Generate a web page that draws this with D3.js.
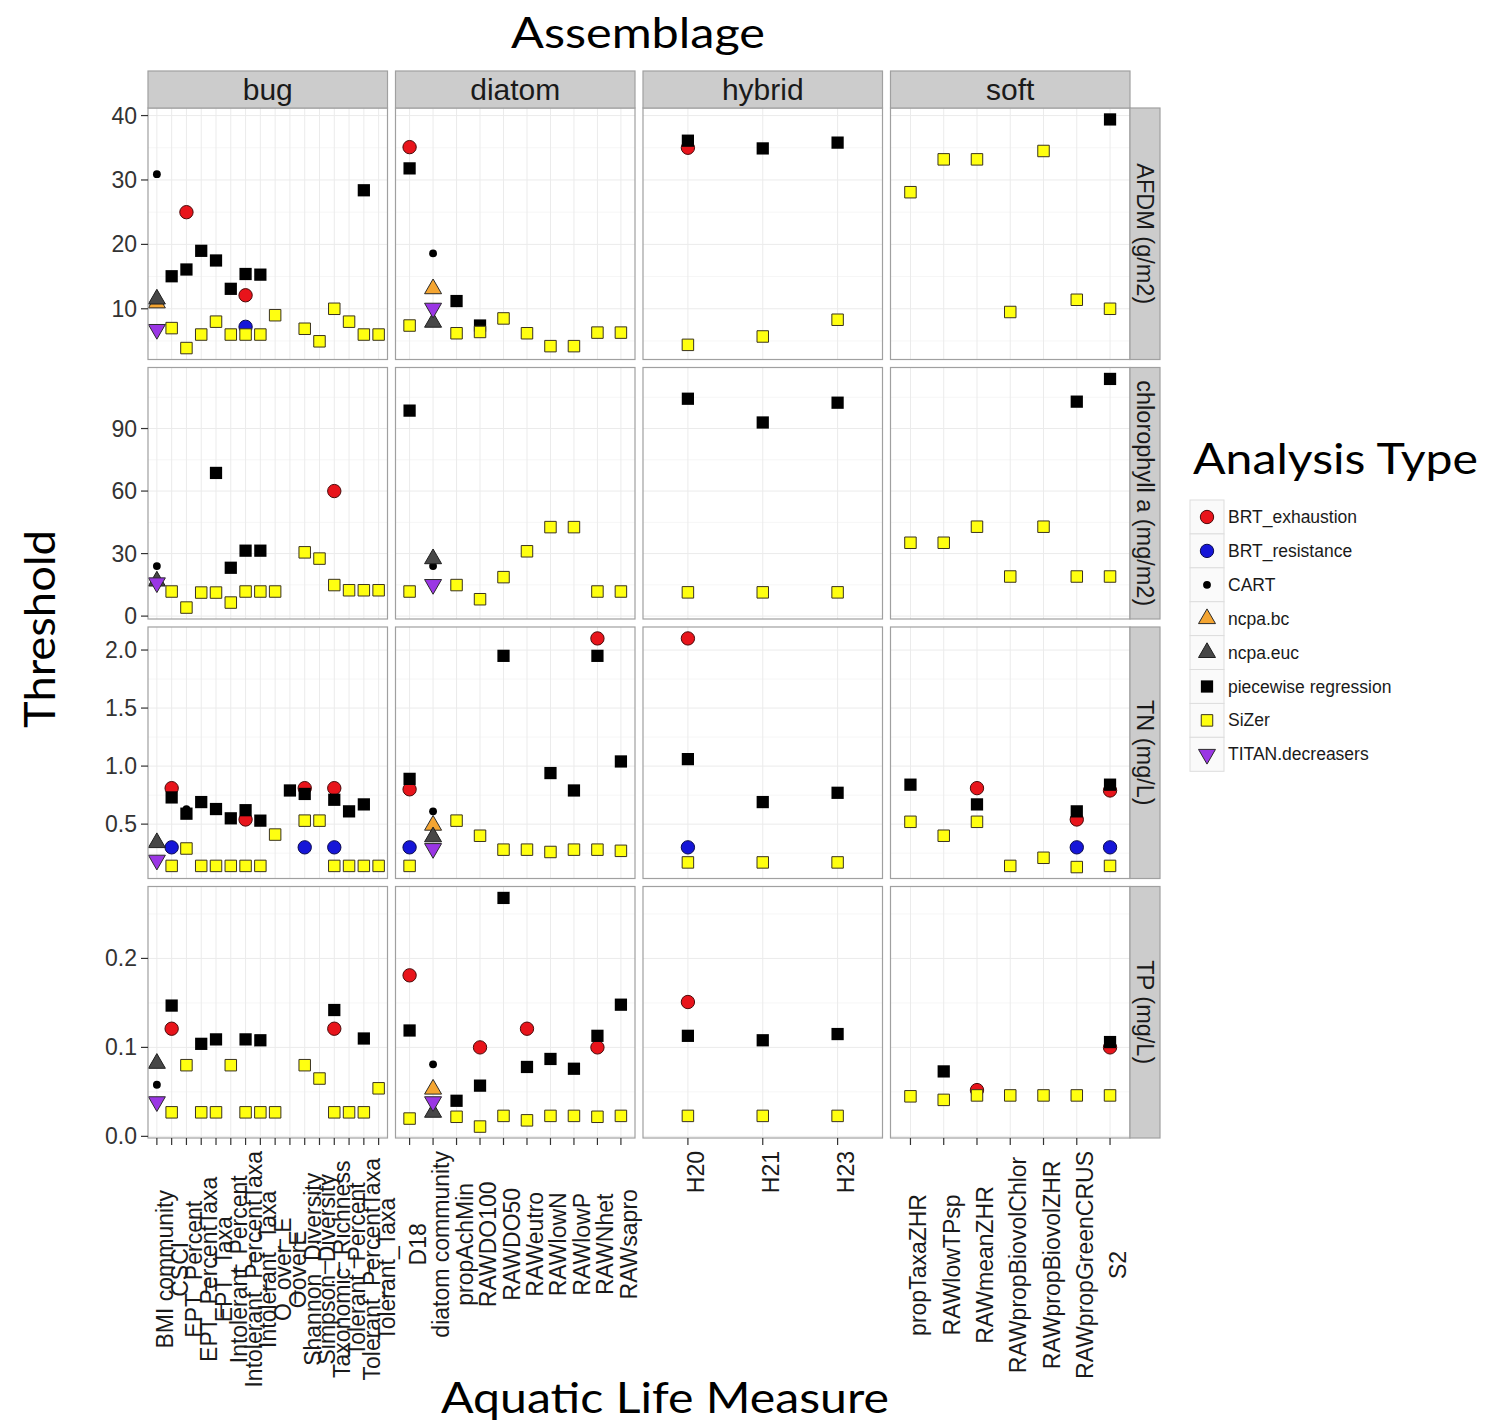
<!DOCTYPE html>
<html>
<head>
<meta charset="utf-8">
<script src="https://cdn.jsdelivr.net/npm/d3@7"></script>
<style>
  body { margin: 0; background: #fff; }
</style>
</head>
<body>
<script>
'use strict';

// facets
var assemblages = ["bug", "diatom", "hybrid", "soft"];
var responses = ["AFDM", "chl", "TN", "TP"];
var responseLabels = ["AFDM (g/m2)", "chlorophyll a (mg/m2)", "TN (mg/L)", "TP (mg/L)"];

// x categories per assemblage
var bugMeasures = ["BMI community", "CSCI", "EPT_Percent", "EPT_PercentTaxa", "EPT_Taxa",
  "Intolerant_Percent", "Intolerant_PercentTaxa", "Intolerant_Taxa", "O_over_E", "OoverE",
  "Shannon_Diversity", "Simpson_Diversity", "Taxonomic_Richness", "Tolerant_Percent",
  "Tolerant_PercentTaxa", "Tolerant_Taxa"];
var diatomMeasures = ["D18", "diatom community", "propAchMin", "RAWDO100", "RAWDO50",
  "RAWeutro", "RAWlowN", "RAWlowP", "RAWNhet", "RAWsapro"];
var hybridMeasures = ["H20", "H21", "H23"];
var softMeasures = ["propTaxaZHR", "RAWlowTPsp", "RAWmeanZHR", "RAWpropBiovolChlor",
  "RAWpropBiovolZHR", "RAWpropGreenCRUS", "S2"];

// y ticks per response row
var yTicks = [[10, 20, 30, 40], [0, 30, 60, 90], [0.5, 1.0, 1.5, 2.0], [0, 0.1, 0.2]];
var yTickLabels = [["10", "20", "30", "40"], ["0", "30", "60", "90"],
  ["0.5", "1.0", "1.5", "2.0"], ["0.0", "0.1", "0.2"]];
var yMinorTicks = [[5, 15, 25, 35], [15, 45, 75, 105], [0.25, 0.75, 1.25, 1.75], [0.05, 0.15, 0.25]];

// legend order
var methods = ["BRT_exhaustion", "BRT_resistance", "CART", "ncpa.bc", "ncpa.euc",
  "piecewise regression", "SiZer", "TITAN.decreasers"];

// thresholds: [assemblage, response, measure, value]
var brtExhaustion = [
  ["bug", "AFDM", "EPT_Percent", 25.0], ["bug", "AFDM", "Intolerant_PercentTaxa", 12.1],
  ["diatom", "AFDM", "D18", 35.1], ["hybrid", "AFDM", "H20", 35.0],
  ["bug", "chl", "Taxonomic_Richness", 60.0],
  ["bug", "TN", "CSCI", 0.81], ["bug", "TN", "Intolerant_PercentTaxa", 0.54],
  ["bug", "TN", "Shannon_Diversity", 0.81], ["bug", "TN", "Taxonomic_Richness", 0.81],
  ["diatom", "TN", "D18", 0.80], ["diatom", "TN", "RAWNhet", 2.10], ["hybrid", "TN", "H20", 2.10],
  ["soft", "TN", "RAWmeanZHR", 0.81], ["soft", "TN", "RAWpropGreenCRUS", 0.54], ["soft", "TN", "S2", 0.79],
  ["bug", "TP", "CSCI", 0.121], ["bug", "TP", "Taxonomic_Richness", 0.121],
  ["diatom", "TP", "D18", 0.181], ["diatom", "TP", "RAWDO100", 0.100], ["diatom", "TP", "RAWeutro", 0.121],
  ["diatom", "TP", "RAWNhet", 0.100], ["hybrid", "TP", "H20", 0.151],
  ["soft", "TP", "RAWmeanZHR", 0.052], ["soft", "TP", "S2", 0.100]
];

var brtResistance = [
  ["bug", "AFDM", "Intolerant_PercentTaxa", 7.2],
  ["bug", "TN", "CSCI", 0.30], ["bug", "TN", "Shannon_Diversity", 0.30], ["bug", "TN", "Taxonomic_Richness", 0.30],
  ["diatom", "TN", "D18", 0.30], ["hybrid", "TN", "H20", 0.30],
  ["soft", "TN", "RAWpropGreenCRUS", 0.30], ["soft", "TN", "S2", 0.30]
];

var cart = [
  ["bug", "AFDM", "BMI community", 30.9], ["diatom", "AFDM", "diatom community", 18.6],
  ["bug", "chl", "BMI community", 24.0], ["diatom", "chl", "diatom community", 24.0],
  ["bug", "TN", "EPT_Percent", 0.63], ["diatom", "TN", "diatom community", 0.61],
  ["bug", "TP", "BMI community", 0.058], ["diatom", "TP", "diatom community", 0.081]
];

var ncpaBc = [
  ["bug", "AFDM", "BMI community", 10.9], ["diatom", "AFDM", "diatom community", 13.1],
  ["diatom", "TN", "diatom community", 0.49], ["diatom", "TP", "diatom community", 0.053]
];

var ncpaEuc = [
  ["bug", "AFDM", "BMI community", 11.5], ["diatom", "AFDM", "diatom community", 7.9],
  ["bug", "chl", "BMI community", 16.8], ["diatom", "chl", "diatom community", 27.5],
  ["bug", "TN", "BMI community", 0.34], ["diatom", "TN", "diatom community", 0.39],
  ["bug", "TP", "BMI community", 0.082], ["diatom", "TP", "diatom community", 0.027]
];

var piecewise = [
  ["bug", "AFDM", "CSCI", 15.05], ["bug", "AFDM", "EPT_Percent", 16.1], ["bug", "AFDM", "EPT_PercentTaxa", 19.0],
  ["bug", "AFDM", "EPT_Taxa", 17.5], ["bug", "AFDM", "Intolerant_Percent", 13.1],
  ["bug", "AFDM", "Intolerant_PercentTaxa", 15.4], ["bug", "AFDM", "Intolerant_Taxa", 15.3],
  ["bug", "AFDM", "Tolerant_PercentTaxa", 28.4],
  ["diatom", "AFDM", "D18", 31.8], ["diatom", "AFDM", "propAchMin", 11.2], ["diatom", "AFDM", "RAWDO100", 7.4],
  ["hybrid", "AFDM", "H20", 36.1], ["hybrid", "AFDM", "H21", 34.9], ["hybrid", "AFDM", "H23", 35.8],
  ["soft", "AFDM", "S2", 39.4],
  ["bug", "chl", "EPT_Taxa", 68.7], ["bug", "chl", "Intolerant_Percent", 23.2],
  ["bug", "chl", "Intolerant_PercentTaxa", 31.4], ["bug", "chl", "Intolerant_Taxa", 31.4],
  ["diatom", "chl", "D18", 98.6],
  ["hybrid", "chl", "H20", 104.3], ["hybrid", "chl", "H21", 92.9], ["hybrid", "chl", "H23", 102.4],
  ["soft", "chl", "RAWpropGreenCRUS", 102.9], ["soft", "chl", "S2", 113.8],
  ["bug", "TN", "CSCI", 0.73], ["bug", "TN", "EPT_Percent", 0.59], ["bug", "TN", "EPT_PercentTaxa", 0.69],
  ["bug", "TN", "EPT_Taxa", 0.63], ["bug", "TN", "Intolerant_Percent", 0.55],
  ["bug", "TN", "Intolerant_PercentTaxa", 0.62], ["bug", "TN", "Intolerant_Taxa", 0.53],
  ["bug", "TN", "OoverE", 0.79], ["bug", "TN", "Shannon_Diversity", 0.76], ["bug", "TN", "Taxonomic_Richness", 0.71],
  ["bug", "TN", "Tolerant_Percent", 0.61], ["bug", "TN", "Tolerant_PercentTaxa", 0.67],
  ["diatom", "TN", "D18", 0.89], ["diatom", "TN", "RAWDO50", 1.95], ["diatom", "TN", "RAWlowN", 0.94],
  ["diatom", "TN", "RAWlowP", 0.79], ["diatom", "TN", "RAWNhet", 1.95], ["diatom", "TN", "RAWsapro", 1.04],
  ["hybrid", "TN", "H20", 1.06], ["hybrid", "TN", "H21", 0.69], ["hybrid", "TN", "H23", 0.77],
  ["soft", "TN", "propTaxaZHR", 0.84], ["soft", "TN", "RAWmeanZHR", 0.67],
  ["soft", "TN", "RAWpropGreenCRUS", 0.61], ["soft", "TN", "S2", 0.84],
  ["bug", "TP", "CSCI", 0.147], ["bug", "TP", "EPT_PercentTaxa", 0.104], ["bug", "TP", "EPT_Taxa", 0.109],
  ["bug", "TP", "Intolerant_PercentTaxa", 0.109], ["bug", "TP", "Intolerant_Taxa", 0.108],
  ["bug", "TP", "Taxonomic_Richness", 0.142], ["bug", "TP", "Tolerant_PercentTaxa", 0.110],
  ["diatom", "TP", "D18", 0.119], ["diatom", "TP", "propAchMin", 0.040], ["diatom", "TP", "RAWDO100", 0.057],
  ["diatom", "TP", "RAWDO50", 0.268], ["diatom", "TP", "RAWeutro", 0.078], ["diatom", "TP", "RAWlowN", 0.087],
  ["diatom", "TP", "RAWlowP", 0.076], ["diatom", "TP", "RAWNhet", 0.113], ["diatom", "TP", "RAWsapro", 0.148],
  ["hybrid", "TP", "H20", 0.113], ["hybrid", "TP", "H21", 0.108], ["hybrid", "TP", "H23", 0.115],
  ["soft", "TP", "RAWlowTPsp", 0.073], ["soft", "TP", "S2", 0.106]
];

var sizer = [
  ["bug", "AFDM", "CSCI", 7.0], ["bug", "AFDM", "EPT_Percent", 3.9], ["bug", "AFDM", "EPT_PercentTaxa", 6.0],
  ["bug", "AFDM", "EPT_Taxa", 8.0], ["bug", "AFDM", "Intolerant_Percent", 6.0],
  ["bug", "AFDM", "Intolerant_PercentTaxa", 6.0], ["bug", "AFDM", "Intolerant_Taxa", 6.0],
  ["bug", "AFDM", "O_over_E", 9.0], ["bug", "AFDM", "Shannon_Diversity", 6.9], ["bug", "AFDM", "Simpson_Diversity", 4.95],
  ["bug", "AFDM", "Taxonomic_Richness", 10.0], ["bug", "AFDM", "Tolerant_Percent", 8.0],
  ["bug", "AFDM", "Tolerant_PercentTaxa", 6.0], ["bug", "AFDM", "Tolerant_Taxa", 6.0],
  ["diatom", "AFDM", "D18", 7.4], ["diatom", "AFDM", "propAchMin", 6.2], ["diatom", "AFDM", "RAWDO100", 6.4],
  ["diatom", "AFDM", "RAWDO50", 8.5], ["diatom", "AFDM", "RAWeutro", 6.2], ["diatom", "AFDM", "RAWlowN", 4.2],
  ["diatom", "AFDM", "RAWlowP", 4.2], ["diatom", "AFDM", "RAWNhet", 6.3], ["diatom", "AFDM", "RAWsapro", 6.3],
  ["hybrid", "AFDM", "H20", 4.4], ["hybrid", "AFDM", "H21", 5.7], ["hybrid", "AFDM", "H23", 8.3],
  ["soft", "AFDM", "propTaxaZHR", 28.1], ["soft", "AFDM", "RAWlowTPsp", 33.2], ["soft", "AFDM", "RAWmeanZHR", 33.2],
  ["soft", "AFDM", "RAWpropBiovolChlor", 9.5], ["soft", "AFDM", "RAWpropBiovolZHR", 34.5],
  ["soft", "AFDM", "RAWpropGreenCRUS", 11.4], ["soft", "AFDM", "S2", 10.0],
  ["bug", "chl", "CSCI", 11.8], ["bug", "chl", "EPT_Percent", 4.1], ["bug", "chl", "EPT_PercentTaxa", 11.3],
  ["bug", "chl", "EPT_Taxa", 11.3], ["bug", "chl", "Intolerant_Percent", 6.5],
  ["bug", "chl", "Intolerant_PercentTaxa", 11.8], ["bug", "chl", "Intolerant_Taxa", 11.8],
  ["bug", "chl", "O_over_E", 11.8], ["bug", "chl", "Shannon_Diversity", 30.6], ["bug", "chl", "Simpson_Diversity", 27.6],
  ["bug", "chl", "Taxonomic_Richness", 14.9], ["bug", "chl", "Tolerant_Percent", 12.4],
  ["bug", "chl", "Tolerant_PercentTaxa", 12.4], ["bug", "chl", "Tolerant_Taxa", 12.4],
  ["diatom", "chl", "D18", 11.8], ["diatom", "chl", "propAchMin", 14.9], ["diatom", "chl", "RAWDO100", 8.1],
  ["diatom", "chl", "RAWDO50", 18.7], ["diatom", "chl", "RAWeutro", 31.1], ["diatom", "chl", "RAWlowN", 42.7],
  ["diatom", "chl", "RAWlowP", 42.7], ["diatom", "chl", "RAWNhet", 11.8], ["diatom", "chl", "RAWsapro", 11.8],
  ["hybrid", "chl", "H20", 11.4], ["hybrid", "chl", "H21", 11.4], ["hybrid", "chl", "H23", 11.4],
  ["soft", "chl", "propTaxaZHR", 35.2], ["soft", "chl", "RAWlowTPsp", 35.2], ["soft", "chl", "RAWmeanZHR", 42.9],
  ["soft", "chl", "RAWpropBiovolChlor", 19.0], ["soft", "chl", "RAWpropBiovolZHR", 42.9],
  ["soft", "chl", "RAWpropGreenCRUS", 19.0], ["soft", "chl", "S2", 19.0],
  ["bug", "TN", "CSCI", 0.14], ["bug", "TN", "EPT_Percent", 0.29], ["bug", "TN", "EPT_PercentTaxa", 0.14],
  ["bug", "TN", "EPT_Taxa", 0.14], ["bug", "TN", "Intolerant_Percent", 0.14],
  ["bug", "TN", "Intolerant_PercentTaxa", 0.14], ["bug", "TN", "Intolerant_Taxa", 0.14],
  ["bug", "TN", "O_over_E", 0.41], ["bug", "TN", "Shannon_Diversity", 0.53], ["bug", "TN", "Simpson_Diversity", 0.53],
  ["bug", "TN", "Taxonomic_Richness", 0.14], ["bug", "TN", "Tolerant_Percent", 0.14],
  ["bug", "TN", "Tolerant_PercentTaxa", 0.14], ["bug", "TN", "Tolerant_Taxa", 0.14],
  ["diatom", "TN", "D18", 0.14], ["diatom", "TN", "propAchMin", 0.53], ["diatom", "TN", "RAWDO100", 0.40],
  ["diatom", "TN", "RAWDO50", 0.28], ["diatom", "TN", "RAWeutro", 0.28], ["diatom", "TN", "RAWlowN", 0.26],
  ["diatom", "TN", "RAWlowP", 0.28], ["diatom", "TN", "RAWNhet", 0.28], ["diatom", "TN", "RAWsapro", 0.27],
  ["hybrid", "TN", "H20", 0.17], ["hybrid", "TN", "H21", 0.17], ["hybrid", "TN", "H23", 0.17],
  ["soft", "TN", "propTaxaZHR", 0.52], ["soft", "TN", "RAWlowTPsp", 0.40], ["soft", "TN", "RAWmeanZHR", 0.52],
  ["soft", "TN", "RAWpropBiovolChlor", 0.14], ["soft", "TN", "RAWpropBiovolZHR", 0.21],
  ["soft", "TN", "RAWpropGreenCRUS", 0.13], ["soft", "TN", "S2", 0.14],
  ["bug", "TP", "CSCI", 0.027], ["bug", "TP", "EPT_Percent", 0.080], ["bug", "TP", "EPT_PercentTaxa", 0.027],
  ["bug", "TP", "EPT_Taxa", 0.027], ["bug", "TP", "Intolerant_Percent", 0.080],
  ["bug", "TP", "Intolerant_PercentTaxa", 0.027], ["bug", "TP", "Intolerant_Taxa", 0.027],
  ["bug", "TP", "O_over_E", 0.027], ["bug", "TP", "Shannon_Diversity", 0.080], ["bug", "TP", "Simpson_Diversity", 0.065],
  ["bug", "TP", "Taxonomic_Richness", 0.027], ["bug", "TP", "Tolerant_Percent", 0.027],
  ["bug", "TP", "Tolerant_PercentTaxa", 0.027], ["bug", "TP", "Tolerant_Taxa", 0.054],
  ["diatom", "TP", "D18", 0.020], ["diatom", "TP", "propAchMin", 0.022], ["diatom", "TP", "RAWDO100", 0.011],
  ["diatom", "TP", "RAWDO50", 0.023], ["diatom", "TP", "RAWeutro", 0.018], ["diatom", "TP", "RAWlowN", 0.023],
  ["diatom", "TP", "RAWlowP", 0.023], ["diatom", "TP", "RAWNhet", 0.022], ["diatom", "TP", "RAWsapro", 0.023],
  ["hybrid", "TP", "H20", 0.023], ["hybrid", "TP", "H21", 0.023], ["hybrid", "TP", "H23", 0.023],
  ["soft", "TP", "propTaxaZHR", 0.045], ["soft", "TP", "RAWlowTPsp", 0.041], ["soft", "TP", "RAWmeanZHR", 0.046],
  ["soft", "TP", "RAWpropBiovolChlor", 0.046], ["soft", "TP", "RAWpropBiovolZHR", 0.046],
  ["soft", "TP", "RAWpropGreenCRUS", 0.046], ["soft", "TP", "S2", 0.046]
];

var titanDecreasers = [
  ["bug", "AFDM", "BMI community", 6.8], ["diatom", "AFDM", "diatom community", 10.1],
  ["bug", "chl", "BMI community", 16.0], ["diatom", "chl", "diatom community", 15.2],
  ["bug", "TN", "BMI community", 0.19], ["diatom", "TN", "diatom community", 0.29],
  ["bug", "TP", "BMI community", 0.039], ["diatom", "TP", "diatom community", 0.039]
];

var seriesData = [brtExhaustion, brtResistance, cart, ncpaBc, ncpaEuc, piecewise, sizer, titanDecreasers];
var measuresByCol = [bugMeasures, diatomMeasures, hybridMeasures, softMeasures];

// marker look per method (legend order)
var markStyle = [
  { type: d3.symbolCircle,   size: 140, fill: "#e8141b", stroke: "#4a0b0b", rot: 0 },
  { type: d3.symbolCircle,   size: 140, fill: "#1616d8", stroke: "#0b0b50", rot: 0 },
  { type: d3.symbolCircle,   size: 48,  fill: "#000000", stroke: "none",    rot: 0 },
  { type: d3.symbolTriangle, size: 125, fill: "#f4a532", stroke: "#2b2b2b", rot: 0 },
  { type: d3.symbolTriangle, size: 125, fill: "#474747", stroke: "#1f1f1f", rot: 0 },
  { type: d3.symbolSquare,   size: 150, fill: "#000000", stroke: "none",    rot: 0 },
  { type: d3.symbolSquare,   size: 132, fill: "#ffff10", stroke: "#3a3320", rot: 0 },
  { type: d3.symbolTriangle, size: 125, fill: "#9a36e4", stroke: "#2b2b2b", rot: 180 }
];

var W = 1499, H = 1425;
var plotL = 148, plotR = 1130, plotT = 108, plotB = 1138, gap = 8;
var panelW = (plotR - plotL - 3 * gap) / 4;
var panelH = (plotB - plotT - 3 * gap) / 4;
var tickFont = "'Liberation Sans', Arial, sans-serif";
var titleFont = "Lato, 'Open Sans', sans-serif";

var svg = d3.select("body").append("svg")
    .attr("width", W).attr("height", H)
    .style("background", "#fff");

// scales
var xScales = measuresByCol.map(function(m, c) {
    var x0 = plotL + c * (panelW + gap);
    return d3.scalePoint().domain(m).range([x0, x0 + panelW]).padding(0.6);
});

var yScales = responses.map(function(resp, r) {
    var vals = [];
    seriesData.forEach(function(s) {
        s.forEach(function(d) { if (d[1] === resp) vals.push(d[3]); });
    });
    var ext = d3.extent(vals), pad = (ext[1] - ext[0]) * 0.05;
    var y0 = plotT + r * (panelH + gap);
    return d3.scaleLinear().domain([ext[0] - pad, ext[1] + pad]).range([y0 + panelH, y0]);
});

// panels: background grid
for (var r = 0; r < 4; r++) {
    for (var c = 0; c < 4; c++) {
        var x0 = plotL + c * (panelW + gap), y0 = plotT + r * (panelH + gap);
        var p = svg.append("g");
        p.append("rect").attr("x", x0).attr("y", y0).attr("width", panelW).attr("height", panelH)
            .attr("fill", "#fff");
        p.selectAll(".ymin").data(yMinorTicks[r]).enter().append("line")
            .attr("x1", x0).attr("x2", x0 + panelW)
            .attr("y1", yScales[r]).attr("y2", yScales[r])
            .attr("stroke", "#f6f6f6").attr("stroke-width", 1);
        p.selectAll(".ymaj").data(yTicks[r]).enter().append("line")
            .attr("x1", x0).attr("x2", x0 + panelW)
            .attr("y1", yScales[r]).attr("y2", yScales[r])
            .attr("stroke", "#ebebeb").attr("stroke-width", 1);
        p.selectAll(".xmaj").data(measuresByCol[c]).enter().append("line")
            .attr("x1", xScales[c]).attr("x2", xScales[c])
            .attr("y1", y0).attr("y2", y0 + panelH)
            .attr("stroke", "#ebebeb").attr("stroke-width", 1);
    }
}

// points, drawn method by method
seriesData.forEach(function(s, k) {
    var st = markStyle[k];
    var sym = d3.symbol().type(st.type).size(st.size);
    svg.append("g").selectAll("path").data(s).enter().append("path")
        .attr("d", sym)
        .attr("transform", function(d) {
            var c = assemblages.indexOf(d[0]), r = responses.indexOf(d[1]);
            return "translate(" + xScales[c](d[2]) + "," + yScales[r](d[3]) + ") rotate(" + st.rot + ")";
        })
        .attr("fill", st.fill)
        .attr("stroke", st.stroke)
        .attr("stroke-width", 1);
});

// panel borders
for (var r2 = 0; r2 < 4; r2++) {
    for (var c2 = 0; c2 < 4; c2++) {
        svg.append("rect")
            .attr("x", plotL + c2 * (panelW + gap)).attr("y", plotT + r2 * (panelH + gap))
            .attr("width", panelW).attr("height", panelH)
            .attr("fill", "none").attr("stroke", "#a0a0a0").attr("stroke-width", 1.2);
    }
}

// top strips
assemblages.forEach(function(a, c) {
    var x0 = plotL + c * (panelW + gap);
    svg.append("rect").attr("x", x0).attr("y", plotT - 37).attr("width", panelW).attr("height", 37)
        .attr("fill", "#cccccc").attr("stroke", "#a0a0a0").attr("stroke-width", 1.2);
    svg.append("text").attr("x", x0 + panelW / 2).attr("y", plotT - 8)
        .attr("text-anchor", "middle")
        .style("font-family", tickFont).style("font-size", "30px").attr("fill", "#1a1a1a")
        .text(a);
});

// right strips
responseLabels.forEach(function(lab, r) {
    var y0 = plotT + r * (panelH + gap);
    svg.append("rect").attr("x", plotR).attr("y", y0).attr("width", 30).attr("height", panelH)
        .attr("fill", "#cccccc").attr("stroke", "#a0a0a0").attr("stroke-width", 1.2);
    svg.append("text")
        .attr("transform", "translate(" + (plotR + 7) + "," + (y0 + panelH / 2) + ") rotate(90)")
        .attr("text-anchor", "middle")
        .style("font-family", tickFont).style("font-size", "23.5px").attr("fill", "#1a1a1a")
        .text(lab);
});

// y axes (left column only)
yScales.forEach(function(y, r) {
    var g = svg.append("g");
    g.selectAll("line").data(yTicks[r]).enter().append("line")
        .attr("x1", plotL - 7).attr("x2", plotL)
        .attr("y1", y).attr("y2", y)
        .attr("stroke", "#333").attr("stroke-width", 1.2);
    g.selectAll("text").data(yTicks[r]).enter().append("text")
        .attr("x", plotL - 11).attr("y", function(d) { return y(d) + 8; })
        .attr("text-anchor", "end")
        .style("font-family", tickFont).style("font-size", "23px").attr("fill", "#333")
        .text(function(d, i) { return yTickLabels[r][i]; });
});

// x axes (bottom row only)
xScales.forEach(function(x, c) {
    var g = svg.append("g");
    g.selectAll("line").data(measuresByCol[c]).enter().append("line")
        .attr("x1", x).attr("x2", x)
        .attr("y1", plotB).attr("y2", plotB + 7)
        .attr("stroke", "#333").attr("stroke-width", 1.2);
    var labels = g.selectAll("text").data(measuresByCol[c]).enter().append("text")
        .attr("text-anchor", "middle")
        .style("font-family", tickFont).style("font-size", "23px").attr("fill", "#1a1a1a")
        .text(function(d) { return d; });
    var maxLen = 0;
    labels.each(function() { maxLen = Math.max(maxLen, this.getComputedTextLength()); });
    labels.attr("transform", function(d) {
        return "translate(" + (x(d) + 16) + "," + (plotB + 13 + maxLen / 2) + ") rotate(-90)";
    });
});

// titles
function title(txt, len, transform, anchor) {
    svg.append("text")
        .attr("transform", transform)
        .attr("text-anchor", anchor)
        .attr("textLength", len).attr("lengthAdjust", "spacingAndGlyphs")
        .style("font-family", titleFont).style("font-size", "42px").attr("fill", "#000")
        .text(txt);
}
title("Assemblage", 254, "translate(638,48)", "middle");
title("Aquatic Life Measure", 448, "translate(665,1413)", "middle");
title("Threshold", 198, "translate(55,629) rotate(-90)", "middle");
title("Analysis Type", 285, "translate(1193,474)", "start");

// legend
var lg = svg.append("g").attr("transform", "translate(1190,500)");
methods.forEach(function(m, k) {
    var st = markStyle[k];
    var row = lg.append("g").attr("transform", "translate(0," + (k * 33.9) + ")");
    row.append("rect").attr("width", 34).attr("height", 34)
        .attr("fill", "#fafafa").attr("stroke", "#dddddd").attr("stroke-width", 1);
    row.append("path").attr("d", d3.symbol().type(st.type).size(st.size)())
        .attr("transform", "translate(17,17) rotate(" + st.rot + ")")
        .attr("fill", st.fill).attr("stroke", st.stroke).attr("stroke-width", 1);
    row.append("text").attr("x", 38).attr("y", 23)
        .style("font-family", tickFont).style("font-size", "17.5px").attr("fill", "#1a1a1a")
        .text(m);
});
</script>
</body>
</html>
